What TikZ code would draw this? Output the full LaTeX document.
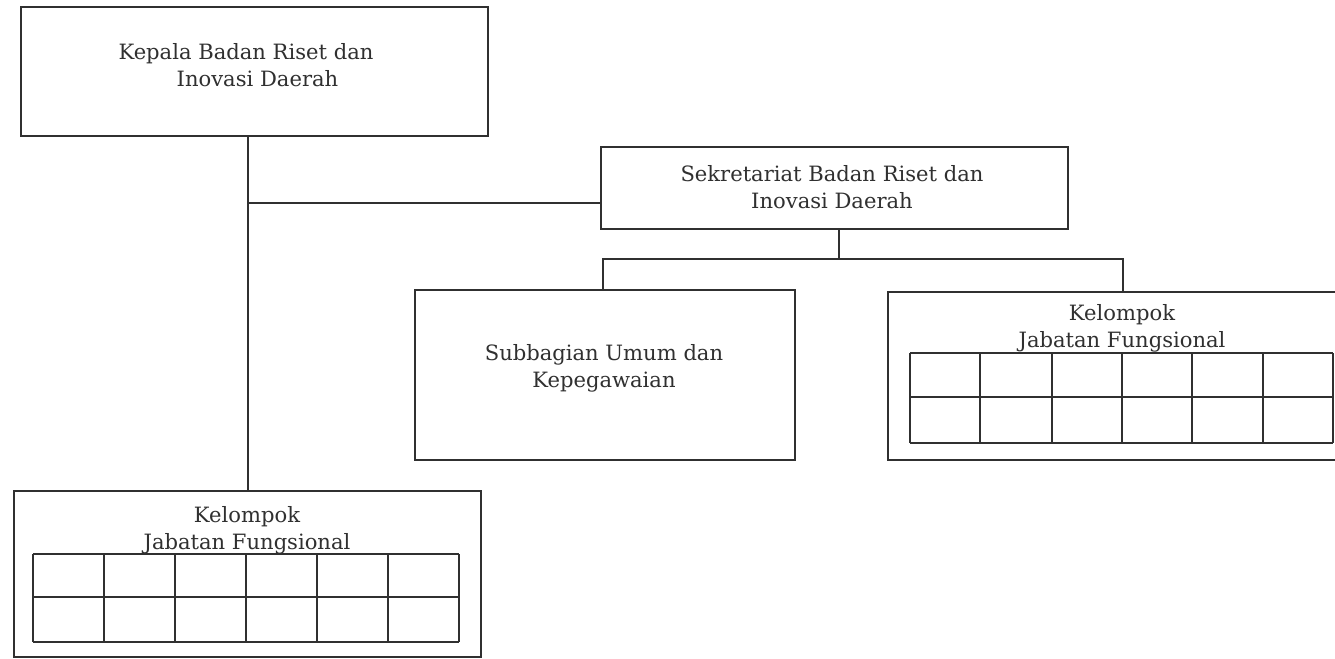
\documentclass[tikz,border=0pt]{standalone}
\usepackage{fontspec}
\setmainfont{DejaVu Serif}
\definecolor{ink}{HTML}{303030}
\begin{document}
\begin{tikzpicture}[x=0.02cm,y=-0.02cm,
  box/.style={draw=ink, line width=1.2pt, inner sep=0pt, rectangle},
  conn/.style={draw=ink, line width=0.8pt},
  gridline/.style={draw=ink, line width=0.75pt},
  lbl/.style={text=ink, font=\fontsize{12}{15.5}\selectfont, align=center, inner sep=0pt}]
\useasboundingbox (0,0) rectangle (1335,659);
\clip (0,0) rectangle (1335,659);
\fill[white] (0,0) rectangle (1335,659);
% boxes
\node[box, minimum width=9.34cm, minimum height=2.58cm] (top) at (254.5,71.5) {};
\node[lbl] (toptext) at (246,65) {Kepala Badan Riset dan\\\hspace*{0.46cm}Inovasi Daerah};
\node[box, minimum width=9.34cm, minimum height=1.64cm] (sek) at (834.5,188) {};
\node[lbl] (sektext) at (832,187.5) {Sekretariat Badan Riset dan\\Inovasi Daerah};
\node[box, minimum width=7.6cm, minimum height=3.4cm] (sub) at (605,375) {};
\node[lbl] (subtext) at (604,368) {Subbagian Umum dan\\Kepegawaian};
\node[box, minimum width=9.34cm, minimum height=3.36cm] (rk) at (1121,376) {};
\node[lbl] (rktext) at (1122,328.5) {Kelompok\\Jabatan Fungsional};
\node[box, minimum width=9.34cm, minimum height=3.32cm] (bk) at (247.5,574) {};
\node[lbl] (bktext) at (247,530) {Kelompok\\Jabatan Fungsional};
% grids
\foreach \x in {33,104,175,246,317,388,459} \draw[gridline] (\x,554) -- (\x,642);
\foreach \y in {554,597,642} \draw[gridline] (33,\y) -- (459,\y);
\foreach \x in {910,980,1052,1122,1192,1263,1333} \draw[gridline] (\x,353) -- (\x,443);
\foreach \y in {353,397,443} \draw[gridline] (910,\y) -- (1333,\y);
% connectors
\coordinate (kj) at (248,203);
\coordinate (jc) at (839,259);
\coordinate (sl) at (603,259);
\coordinate (sr) at (1123,259);
\draw[conn] (top.south -| kj) -- (bk.north -| kj);
\draw[conn] (kj) -- (sek.west |- kj);
\draw[conn] (sek.south -| jc) -- (jc);
\draw[conn] (sub.north -| sl) -- (sl) -- (sr) -- (rk.north -| sr);
\end{tikzpicture}
\end{document}
